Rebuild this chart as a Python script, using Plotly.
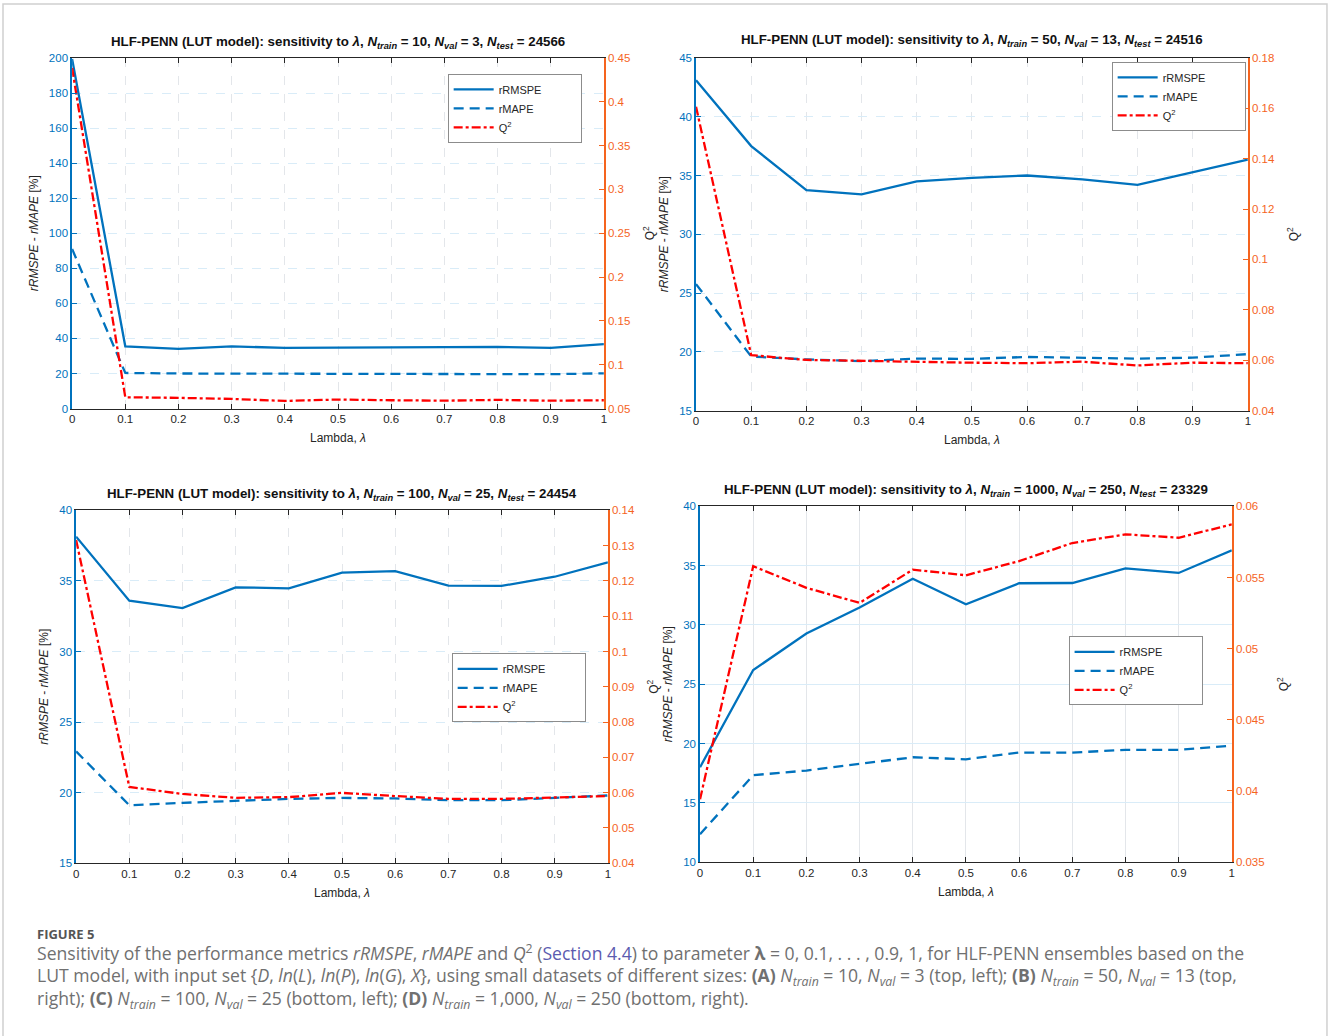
import plotly.graph_objects as go

W, H = 1328, 1036

lam = [0, 0.1, 0.2, 0.3, 0.4, 0.5, 0.6, 0.7, 0.8, 0.9, 1]

# (A) N_train = 10
a_rrmspe = [199.4, 35.5, 34.0, 35.5, 34.6, 34.6, 35.0, 35.0, 35.2, 34.6, 36.7]
a_rmape = [91, 20.3, 20.0, 20.0, 19.6, 19.8, 19.8, 19.8, 19.8, 19.6, 20.1]
a_q2 = [0.4386, 0.0629, 0.0622, 0.061, 0.0587, 0.0603, 0.0595, 0.059, 0.0599, 0.059, 0.0595]

# (B) N_train = 50
b_rrmspe = [43.1, 37.5, 33.76, 33.4, 34.5, 34.8, 35.0, 34.66, 34.2, 35.25, 36.35]
b_rmape = [25.76, 19.6, 19.35, 19.2, 19.42, 19.4, 19.56, 19.5, 19.42, 19.5, 19.8]
b_q2 = [0.1606, 0.062, 0.0601, 0.0597, 0.0593, 0.059, 0.0588, 0.0594, 0.0579, 0.059, 0.0588]

# (C) N_train = 100
c_rrmspe = [38.14, 33.6, 33.07, 34.55, 34.48, 35.59, 35.7, 34.67, 34.65, 35.3, 36.32]
c_rmape = [22.92, 19.1, 19.27, 19.41, 19.55, 19.62, 19.58, 19.46, 19.46, 19.62, 19.79]
c_q2 = [0.1316, 0.0616, 0.0596, 0.0585, 0.0587, 0.0599, 0.059, 0.0582, 0.0582, 0.0587, 0.059]

# (D) N_train = 1000
d_rrmspe = [18.0, 26.2, 29.28, 31.47, 33.9, 31.75, 33.52, 33.54, 34.78, 34.39, 36.3]
d_rmape = [12.35, 17.33, 17.72, 18.31, 18.84, 18.67, 19.24, 19.24, 19.46, 19.46, 19.82]
d_q2 = [0.03942, 0.0558, 0.05428, 0.05322, 0.05556, 0.05516, 0.05616, 0.05743, 0.05804, 0.0578, 0.05874]

titles = [
    'HLF-PENN (LUT model): sensitivity to <i>λ</i>, <i>N</i><sub><i>train</i></sub> = 10, '
    '<i>N</i><sub><i>val</i></sub> = 3, <i>N</i><sub><i>test</i></sub> = 24566',
    'HLF-PENN (LUT model): sensitivity to <i>λ</i>, <i>N</i><sub><i>train</i></sub> = 50, '
    '<i>N</i><sub><i>val</i></sub> = 13, <i>N</i><sub><i>test</i></sub> = 24516',
    'HLF-PENN (LUT model): sensitivity to <i>λ</i>, <i>N</i><sub><i>train</i></sub> = 100, '
    '<i>N</i><sub><i>val</i></sub> = 25, <i>N</i><sub><i>test</i></sub> = 24454',
    'HLF-PENN (LUT model): sensitivity to <i>λ</i>, <i>N</i><sub><i>train</i></sub> = 1000, '
    '<i>N</i><sub><i>val</i></sub> = 250, <i>N</i><sub><i>test</i></sub> = 23329',
]

BLUE = '#0072BD'
RED = '#FF0000'
ORANGE = '#F5641E'
FONT = 'Arial, Liberation Sans, sans-serif'

# the page comes out slightly shrunk and shifted, correct for it
SX, OX = 0.994, 4.0
SY, OY = 0.9895, 5.0


def px_x(v):
    return ((v - OX) / SX) / W


def px_y(v):
    return 1 - ((v - OY) / SY) / H


# panel boxes in pixels: left, right, top, bottom; legend top-left corner
panels = [
    dict(data=(a_rrmspe, a_rmape, a_q2), box=(73, 604, 57, 408), title_y=42,
         leg=(448, 73), yl=([0, 200], 20), yr=([0.05, 0.45], 0.05), dash='dash'),
    dict(data=(b_rrmspe, b_rmape, b_q2), box=(696, 1247, 57, 410), title_y=40,
         leg=(1111, 61), yl=([15, 45], 5), yr=([0.04, 0.18], 0.02), dash='dash'),
    dict(data=(c_rrmspe, c_rmape, c_q2), box=(77, 608, 510, 863), title_y=494,
         leg=(452, 653), yl=([15, 40], 5), yr=([0.04, 0.14], 0.01), dash='dash'),
    dict(data=(d_rrmspe, d_rmape, d_q2), box=(700, 1231, 506, 862), title_y=490,
         leg=(1068, 636), yl=([10, 40], 5), yr=([0.035, 0.06], 0.005), dash='solid'),
]

pad = '&nbsp;' * 11

fig = go.Figure()
layout = dict(width=W, height=H, margin=dict(l=0, r=0, t=0, b=0),
              paper_bgcolor='white', plot_bgcolor='white',
              font=dict(family=FONT, size=11, color='#262626'))
annotations = []

for i, p in enumerate(panels):
    n = i + 1
    xa = 'x' if n == 1 else f'x{n}'
    yl_id = 2 * n - 1
    yr_id = 2 * n
    yl = 'y' if yl_id == 1 else f'y{yl_id}'
    yr = f'y{yr_id}'
    leg = 'legend' if n == 1 else f'legend{n}'
    rr, rm, q2 = p['data']

    fig.add_trace(go.Scatter(x=lam, y=rr, xaxis=xa, yaxis=yl, mode='lines',
                             name='rRMSPE' + pad, legend=leg,
                             line=dict(color=BLUE, width=2.3)))
    fig.add_trace(go.Scatter(x=lam, y=rm, xaxis=xa, yaxis=yl, mode='lines',
                             name='rMAPE', legend=leg,
                             line=dict(color=BLUE, width=2.3, dash='10px,6px')))
    fig.add_trace(go.Scatter(x=lam, y=q2, xaxis=xa, yaxis=yr, mode='lines',
                             name='Q<sup>2</sup>', legend=leg,
                             line=dict(color=RED, width=2.3, dash='9px,3px,3px,3px')))

    l, r, t, b = p['box']
    xdom = [px_x(l), px_x(r)]
    ydom = [px_y(b), px_y(t)]
    xkey = 'xaxis' if n == 1 else f'xaxis{n}'
    ylkey = 'yaxis' if yl_id == 1 else f'yaxis{yl_id}'
    yrkey = f'yaxis{yr_id}'

    layout[xkey] = dict(domain=xdom, anchor=yl, range=[0, 1], dtick=0.1, tick0=0,
                        showline=True, linecolor='#262626', linewidth=1, mirror='ticks',
                        ticks='inside', ticklen=5, tickcolor='#262626',
                        showgrid=True, gridcolor='#E3E6EA', griddash=p['dash'], gridwidth=1,
                        zeroline=False, tickfont=dict(size=11.5, color='#262626'),
                        title=dict(text='Lambda, <i>λ</i>', font=dict(size=12, color='#262626'),
                                   standoff=9))
    layout[ylkey] = dict(domain=ydom, anchor=xa, range=p['yl'][0], dtick=p['yl'][1],
                         tick0=p['yl'][0][0], showline=True, linecolor=BLUE, linewidth=1.5,
                         ticks='inside', ticklen=5, tickcolor=BLUE,
                         showgrid=True, gridcolor='#D9ECF8', griddash=p['dash'], gridwidth=1,
                         zeroline=False, tickfont=dict(size=11.5, color=BLUE),
                         title=dict(text='<i>rRMSPE</i> - <i>rMAPE</i> [%]',
                                    font=dict(size=12, color='#262626'), standoff=8))
    layout[yrkey] = dict(overlaying=yl, anchor=xa, side='right', range=p['yr'][0],
                         dtick=p['yr'][1], tick0=p['yr'][0][0], showline=True,
                         linecolor=ORANGE, linewidth=1.5, ticks='inside', ticklen=5,
                         tickcolor=ORANGE, showgrid=False, zeroline=False,
                         tickfont=dict(size=11.5, color=ORANGE),
                         title=dict(text='Q<sup>2</sup>', font=dict(size=12, color='#262626'),
                                    standoff=16))

    lx, ly = p['leg']
    layout[leg] = dict(x=px_x(lx), y=px_y(ly), xanchor='left', yanchor='top',
                       bgcolor='white', bordercolor='#8C8C8C', borderwidth=1,
                       font=dict(size=11, color='#262626'), itemwidth=40,
                       tracegroupgap=0)

    annotations.append(dict(text='<b>' + titles[i] + '</b>', x=(xdom[0] + xdom[1]) / 2,
                            y=px_y(p['title_y']), xref='paper', yref='paper', showarrow=False,
                            font=dict(size=13.3, color='#111111', family=FONT),
                            xanchor='center', yanchor='middle'))

# caption
CAP = 'Open Sans, Lato, sans-serif'
CAPC = '#707070'
LINK = '#5B5BB0'
nt = '<i>N</i><sub><i>train</i></sub>'
nv = '<i>N</i><sub><i>val</i></sub>'
caption_lines = [
    'Sensitivity of the performance metrics <i>rRMSPE</i>, <i>rMAPE</i> and <i>Q</i><sup>2</sup> '
    f'(<span style="color:{LINK}">Section 4.4</span>) to parameter <b>λ</b> = 0, 0.1, . . . , 0.9, 1, '
    'for HLF-PENN ensembles based on the',
    'LUT model, with input set {<i>D</i>, <i>ln</i>(<i>L</i>), <i>ln</i>(<i>P</i>), <i>ln</i>(<i>G</i>), '
    f'<i>X</i>}}, using small datasets of different sizes: <b>(A)</b> {nt} = 10, {nv} = 3 (top, left); '
    f'<b>(B)</b> {nt} = 50, {nv} = 13 (top,',
    f'right); <b>(C)</b> {nt} = 100, {nv} = 25 (bottom, left); <b>(D)</b> {nt} = 1,000, '
    f'{nv} = 250 (bottom, right).',
]
annotations.append(dict(text='<b>FIGURE 5</b>', x=px_x(36), y=px_y(934), xref='paper',
                        yref='paper', showarrow=False, xanchor='left', yanchor='middle',
                        font=dict(size=13, color='#555555', family=CAP)))
for line, yy in zip(caption_lines, [953, 977, 1000]):
    annotations.append(dict(text=line, x=px_x(36), y=px_y(yy), xref='paper', yref='paper',
                            showarrow=False, xanchor='left', yanchor='middle',
                            font=dict(size=17.6, color=CAPC, family=CAP)))

layout['annotations'] = annotations
layout['shapes'] = [dict(type='rect', xref='paper', yref='paper', x0=px_x(4), x1=px_x(1326),
                         y0=px_y(1045), y1=px_y(3), line=dict(color='#D0D0D0', width=1.5))]
fig.update_layout(**layout)

fig.write_html('out.html', config={'displayModeBar': False},
               post_script="document.body.style.margin='0';")
